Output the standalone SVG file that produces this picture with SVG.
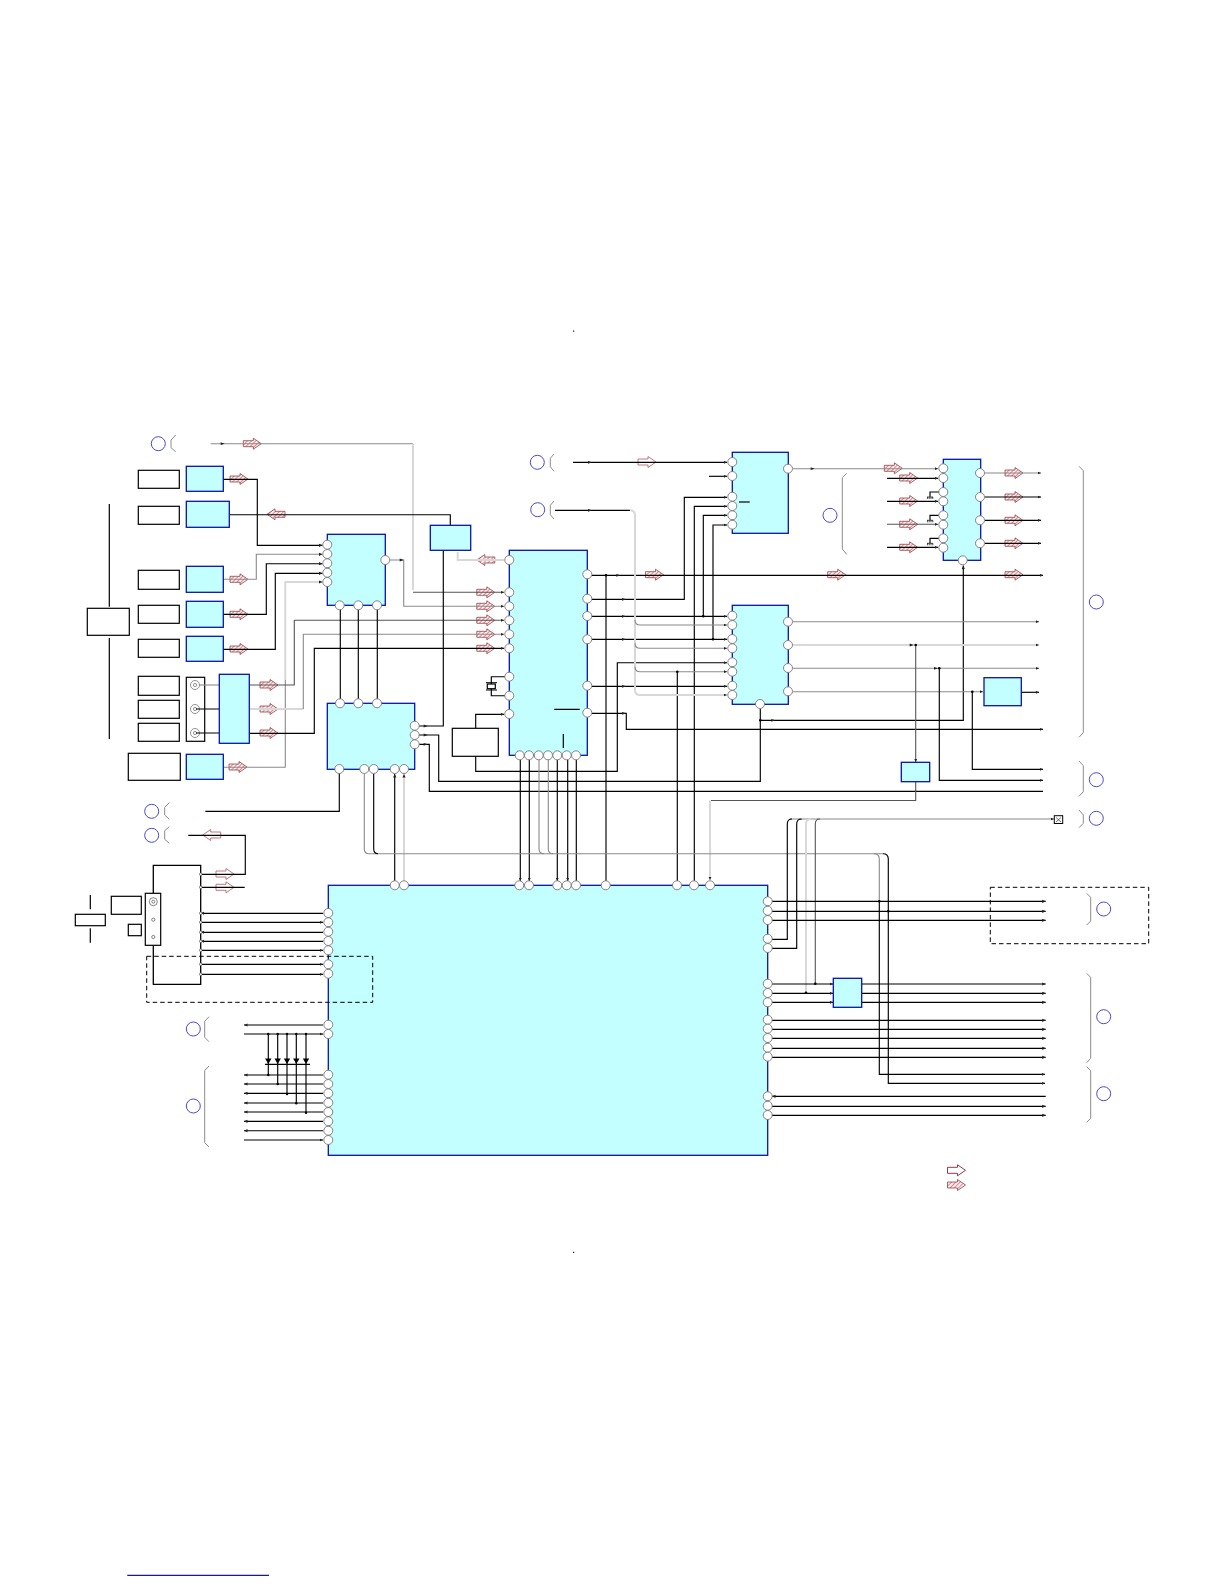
<svg xmlns="http://www.w3.org/2000/svg" width="1224" height="1584" viewBox="0 0 1224 1584">
<style>
.n{fill:#c4ffff;stroke:#0a14a8;stroke-width:1.3}
.w{fill:#fff;stroke:#000;stroke-width:1.2}
.p{fill:#fff;stroke:#777;stroke-width:.9}
.c{fill:none;stroke:#4a4ad2;stroke-width:1}
.b{fill:none;stroke:#8c8c8c;stroke-width:1}
#connectors path{fill:none}
.k{stroke:#000;stroke-width:1.15}
.g{stroke:#8a8a8a;stroke-width:1.1}
.d{stroke:#555;stroke-width:1.1}
.l{stroke:#d8d8d8;stroke-width:2}
.a{marker-end:url(#t)}
.j{fill:#000}
.h{fill:url(#hatch);stroke:#96404a;stroke-width:.8}
.o{fill:#fff;stroke:#b56a70;stroke-width:.9}
</style>
<defs>
<pattern id="hatch" width="3" height="3" patternUnits="userSpaceOnUse" patternTransform="rotate(45)">
<rect width="3" height="3" fill="#fdf0f0"/><rect width="1" height="3" fill="#d88a90"/>
</pattern>
<marker id="t" markerUnits="userSpaceOnUse" markerWidth="4" markerHeight="4" refX="3.5" refY="2" orient="auto"><path d="M0,.4L3.5,2L0,3.6Z" fill="#222"/></marker>
<path id="ar" d="M-9,-3H1V-5.5L9,0L1,5.5V3H-9Z"/>
<path id="al" d="M9,-3H-1V-5.5L-9,0L-1,5.5V3H9Z"/>
<path id="tr" d="M-2,-1.4L2,0L-2,1.4Z" fill="#222"/>
<path id="gnd" d="M-3,0H3M-2.6,0V2M-.8,0V2M1,0V2M2.8,0V2" fill="none" stroke="#000" stroke-width=".7"/>
<path id="di" d="M-3.2,-5.5H3.2L0,0Z" fill="#000"/>
</defs>
<rect width="1224" height="1584" fill="#fff"/>

<g id="arrows">
<use href="#ar" class="h" x="252.3" y="443.7"/><use href="#ar" class="h" x="239" y="479"/><use href="#al" class="h" x="276" y="514.3"/>
<use href="#ar" class="h" x="239" y="579.3"/><use href="#ar" class="h" x="239" y="614.3"/><use href="#ar" class="h" x="239" y="649"/>
<use href="#ar" class="h" x="269" y="685"/><use href="#ar" class="h" x="269" y="709"/><use href="#ar" class="h" x="269" y="733"/><use href="#ar" class="h" x="238" y="767"/>
<use href="#al" class="h" x="485.8" y="560"/><use href="#ar" class="h" x="485.8" y="592.3"/><use href="#ar" class="h" x="485.8" y="606.3"/><use href="#ar" class="h" x="485.8" y="620.3"/><use href="#ar" class="h" x="485.8" y="634.3"/><use href="#ar" class="h" x="485.8" y="648.3"/>
<use href="#ar" class="h" x="654.5" y="574.7"/><use href="#ar" class="h" x="836.7" y="574.7"/><use href="#ar" class="h" x="893.3" y="468.3"/>
<use href="#ar" class="h" x="908.7" y="478"/><use href="#ar" class="h" x="908.7" y="501"/><use href="#ar" class="h" x="908.7" y="524.3"/><use href="#ar" class="h" x="908.7" y="547.3"/>
<use href="#ar" class="h" x="1014" y="473"/><use href="#ar" class="h" x="1014" y="497"/><use href="#ar" class="h" x="1014" y="520.3"/><use href="#ar" class="h" x="1014" y="543.3"/><use href="#ar" class="h" x="1014" y="574.7"/>
<use href="#ar" class="o" x="647" y="462"/><use href="#al" class="o" x="211.7" y="835"/><use href="#ar" class="o" x="225" y="874"/><use href="#ar" class="o" x="225" y="887.3"/>
<use href="#ar" class="o" style="stroke:#8c2430" x="956.5" y="1170.3"/><use href="#ar" class="h" x="956.5" y="1185"/>
</g>

<g id="connectors">
<path class="g" d="M210.7,443.7H413"/><path class="l" d="M413,443.7V590"/><path class="d a" d="M413,592.3H504"/>
<path class="k a" d="M223.3,479.3H257.3V545.3H322.5"/>
<path class="k" d="M230,514.7H450.3V525.3"/>
<path class="g a" d="M223.3,579.3H256.3V554.3H322.5"/>
<path class="k a" d="M223.3,614.3H266.3V563.7H322.5"/>
<path class="k a" d="M223.3,649.3H275.3V573.3H322.5"/>
<path class="g" d="M223.3,767.3H285.3V680"/><path class="l a" d="M285.3,680V582H322.5"/>
<path class="g a" d="M390,560H403.7V606.3H504"/>
<path class="d a" d="M249.3,685H294.3V620.3H504"/>
<path class="l" d="M249.3,709H303.3"/><path class="g a" d="M303.3,709V634.3H504"/>
<path class="k a" d="M249.3,733.3H314.3V648.3H504"/>
<path class="k" d="M340.3,708V600M358.3,708V600M377.3,708V600"/>
<path class="k" d="M419,726H443.3V550.3"/>
<path class="l" d="M504,560H457.7V552"/><path class="k" d="M419,735H438.7V781.3H760.3V709"/><path class="k" d="M419,744.3H429.3V791.3H1043"/>
<path class="k" d="M205.3,811.3H339.3V769"/>
<path class="k a" d="M475.7,728.3V714.3H504"/>
<path class="k a" d="M475.7,756.3V771.3H617.3V662.7H727"/>
<path class="k" d="M505,676.7H491.3V684M491.3,688.7V695.7H505"/>
<path class="k a" d="M592,575.3H1043"/>
<path class="k" d="M606,575.3V885"/>
<path class="k a" d="M592,599.3H684.3V497.3H727"/>
<path class="k a" d="M592,616.3H727"/>
<path class="k a" d="M592,639.3H727"/>
<path class="k a" d="M592,686.3H727"/>
<path class="k a" d="M592,713.3H626.3V729.3H1043"/>
<path class="k a" d="M694.3,885V506.3H727"/>
<path class="k a" d="M703.3,616V515.3H727"/>
<path class="k a" d="M713,639.3V525H727"/>
<path class="k" d="M677.3,671.7V885"/>
<path class="k a" d="M573,462.3H727"/><path class="k a" d="M709,476.3H727"/>
<path class="k" d="M555,510.3H630"/>
<path class="l a" d="M630,510.3Q635,510.3 635,515.3V690Q635,695 640,695H727"/>
<path class="g a" d="M635,620Q635,625 640,625H727"/><path class="g a" d="M635,643.3Q635,648.3 640,648.3H727"/><path class="g a" d="M635,666.7Q635,671.7 640,671.7H727"/>
<path class="g a" d="M793,468.7H938"/>
<path class="k a" d="M887,478.3H938"/><path class="k a" d="M887,501.3H938"/><path class="d a" d="M887,524.3H938"/><path class="k a" d="M887,547.3H938"/>
<path class="k" d="M939,492H930V496.7M939,515.3H930V520M939,538.3H930V543"/>
<path class="g a" d="M985,473H1041"/><path class="k a" d="M985,497H1041"/><path class="k a" d="M985,520.3H1041"/><path class="k a" d="M985,543.3H1041"/>
<path class="k a" d="M760.3,720.3H963.3V565.5"/>
<path class="g a" d="M793,621.7H1039"/><path class="l a" d="M793,645H1039"/>
<path class="g a" d="M793,668.3H1039"/><path class="g a" d="M793,691.7H983"/>
<path class="k a" d="M1021.3,692.3H1039"/>
<path class="d a" d="M915.7,645V762"/><path class="k a" d="M939.3,668.3V780.3H1043"/><path class="k a" d="M972.3,691.7V769.3H1043"/>
<path class="d" d="M915.7,781.7V800.5H711"/><path class="l a" d="M710,800.5V880"/>
<path class="k a" d="M520.3,760V881"/><path class="k a" d="M529.3,760V881"/>
<path class="k a" d="M557.3,760V881"/><path class="k a" d="M567.7,760V881"/><path class="k" d="M576.3,760V881"/>
<path class="k a" d="M394.7,881V774"/><path class="l a" d="M404,881V774"/>
<path class="g" d="M364.3,774V849Q364.3,853.7 369,853.7H883"/>
<path class="k" d="M373.7,774V849Q373.7,853.7 378,853.7"/>
<path class="g" d="M539,760V849Q539,853.7 544,853.7M548.3,760V849Q548.3,853.7 553,853.7"/>
<path class="k a" d="M883,853.7Q888.3,853.7 888.3,859V1083.3H1045"/>
<path class="g" d="M874,853.7Q879.3,853.7 879.3,859V901.3"/><path class="k a" d="M879.3,901.3V1074.3H1045"/>
<path class="g a" d="M790,819H1054"/>
<path class="k" d="M772,939.3H787.3V824Q787.3,819 792,819"/>
<path class="k" d="M772,948.3H796.7V824Q796.7,819 801.7,819"/>
<path class="l" d="M806,992.7V824Q806,819 811,819"/>
<path class="d" d="M815.3,983.7V824Q815.3,819 820,819"/>
<path class="k a" d="M772,901.3H1045.7"/><path class="k a" d="M772,911.3H1045.7"/><path class="k a" d="M772,920.3H1045.7"/>
<path class="k a" d="M772,984H833"/><path class="k a" d="M772,993.3H833"/><path class="k a" d="M772,1002.3H833"/>
<path class="k a" d="M861.7,984H1045.7"/><path class="k a" d="M861.7,993.3H1045.7"/><path class="k a" d="M861.7,1002.3H1045.7"/>
<path class="k a" d="M772,1020.3H1045.7"/><path class="k a" d="M772,1029.3H1045.7"/><path class="k a" d="M772,1038.3H1045.7"/><path class="k a" d="M772,1048.3H1045.7"/><path class="k a" d="M772,1057.3H1045.7"/>
<path class="k a" d="M1045.7,1096.3H772"/><path class="k a" d="M772,1106.3H1045.7"/><path class="k a" d="M772,1115.3H1045.7"/>
<path class="k" d="M188.3,835.3H245.3V874.3H200.7M200.7,887.3H244.7"/>
<path class="k a" d="M323,913.3H200.7"/><path class="k a" d="M200.7,922.3H323"/><path class="k a" d="M323,932.3H200.7"/><path class="k a" d="M323,941.3H200.7"/><path class="k a" d="M200.7,950.3H323"/><path class="k a" d="M200.7,964.3H323"/><path class="k a" d="M200.7,974.3H323"/>
<path class="k a" d="M323,1025H244"/><path class="k a" d="M244,1034H323"/>
<path class="k a" d="M323,1075H244"/><path class="k a" d="M323,1084H244"/><path class="k a" d="M323,1093.3H244"/><path class="k a" d="M323,1103H244"/><path class="k a" d="M323,1112H244"/><path class="k a" d="M323,1121.3H244"/><path class="k a" d="M323,1130.7H244"/><path class="k a" d="M244,1140H323"/>
<path class="k" d="M268.3,1034V1075M277.7,1034V1084M287,1034V1094M296.3,1034V1103.3M306,1034V1112.7"/>
<path class="k" d="M265,1064.3H310"/>
<circle class="j" cx="606" cy="575.3" r="1.3"/><circle class="j" cx="703.3" cy="616.3" r="1.3"/><circle class="j" cx="713" cy="639.3" r="1.3"/><circle class="j" cx="677.3" cy="671.7" r="1.3"/><circle class="j" cx="915.7" cy="645" r="1.3"/><circle class="j" cx="939.3" cy="668.3" r="1.3"/><circle class="j" cx="972.3" cy="691.7" r="1.3"/><circle class="j" cx="760.3" cy="720.3" r="1.3"/><circle class="j" cx="815.3" cy="983.7" r="1.3"/><circle class="j" cx="806" cy="992.7" r="1.3"/><circle class="j" cx="879.3" cy="901.3" r="1.3"/><circle class="j" cx="888.3" cy="911.3" r="1.3"/>
<circle class="j" cx="268.3" cy="1034" r="1.2"/><circle class="j" cx="277.7" cy="1034" r="1.2"/><circle class="j" cx="287" cy="1034" r="1.2"/><circle class="j" cx="296.3" cy="1034" r="1.2"/><circle class="j" cx="306" cy="1034" r="1.2"/>
<circle class="j" cx="268.3" cy="1075" r="1.2"/><circle class="j" cx="277.7" cy="1084" r="1.2"/><circle class="j" cx="287" cy="1094" r="1.2"/><circle class="j" cx="296.3" cy="1103.3" r="1.2"/><circle class="j" cx="306" cy="1112.7" r="1.2"/>
<use href="#tr" x="222.7" y="443.7"/><use href="#tr" x="590" y="462.3"/><use href="#tr" x="590" y="510.3"/><use href="#tr" x="401.7" y="560"/><use href="#tr" x="425.7" y="726"/><use href="#tr" x="425.7" y="735"/><use href="#tr" x="425.7" y="744.3"/><use href="#tr" x="618.3" y="575.3"/><use href="#tr" x="624" y="599.3"/><use href="#tr" x="624" y="616.3"/><use href="#tr" x="624" y="639.3"/><use href="#tr" x="624" y="686.3"/><use href="#tr" x="624" y="713.3"/><use href="#tr" x="812.7" y="468.7"/><use href="#tr" x="911.7" y="645"/><use href="#tr" x="936" y="668.3"/><use href="#tr" x="773.3" y="720.3"/>
</g>

<g id="labels">
<circle class="c" cx="158.3" cy="443.7" r="7"/><path class="b" d="M175.7,435L171,440V447.7L175.7,451.7"/>
<circle class="c" cx="537.3" cy="462.3" r="7"/><path class="b" d="M554,454L550.3,458.3V466.7L554,471.3"/>
<circle class="c" cx="537.7" cy="509.7" r="7"/><path class="b" d="M554,501L550.3,505.3V514.7L554,519"/>
<circle class="c" cx="830" cy="515.3" r="7"/><path class="b" d="M846.7,473.3L842.3,477.7V549L846.7,554.3"/>
<circle class="c" cx="1096.3" cy="602" r="7"/><path class="b" d="M1079,466.3L1083.3,470.7V732.7L1079,737.3"/>
<circle class="c" cx="1096.3" cy="779.7" r="7"/><path class="b" d="M1079,761L1083.3,765.7V791.7L1079,796.3"/>
<circle class="c" cx="1096.3" cy="818.3" r="7"/><path class="b" d="M1079,810L1083.3,815V823.3L1079,827.7"/>
<circle class="c" cx="151.7" cy="811.3" r="7"/><path class="b" d="M169.3,802.7L164.7,807.3V815L169.3,819.3"/>
<circle class="c" cx="151.7" cy="835.3" r="7"/><path class="b" d="M169.3,826.7L164.7,830.7V839.3L169.3,843.3"/>
<circle class="c" cx="193.3" cy="1029" r="7"/><path class="b" d="M209,1016.7L204.7,1021.3V1037.3L209,1041.7"/>
<circle class="c" cx="193.3" cy="1106" r="7"/><path class="b" d="M209,1066L204.7,1070.7V1142.7L209,1147"/>
<circle class="c" cx="1103.7" cy="909" r="7"/><path class="b" d="M1086.7,893.3L1090.7,897.3V921L1086.7,925"/>
<circle class="c" cx="1103.7" cy="1016.7" r="7"/><path class="b" d="M1086.7,973.3L1090.7,977.3V1058.3L1086.7,1062.7"/>
<circle class="c" cx="1103.7" cy="1093.7" r="7"/><path class="b" d="M1086.7,1066.7L1090.7,1070.7V1118.3L1086.7,1122.3"/>
<use href="#gnd" x="930" y="497"/><use href="#gnd" x="930" y="520.3"/><use href="#gnd" x="930" y="543.3"/>
</g>

<g id="sources">
<rect class="w" x="138.3" y="470.3" width="41" height="18"/>
<rect class="w" x="138.3" y="506.3" width="41" height="18"/>
<rect class="w" x="138.3" y="570.3" width="41" height="19"/>
<rect class="w" x="138.3" y="605.3" width="41" height="18"/>
<rect class="w" x="138.3" y="639.3" width="41" height="18"/>
<rect class="w" x="138.3" y="676.3" width="41" height="19"/>
<rect class="w" x="138.3" y="700.3" width="41" height="18"/>
<rect class="w" x="138.3" y="723.3" width="41" height="18"/>
<rect class="w" x="128.3" y="753.3" width="52" height="27"/>
<rect class="w" x="87.3" y="608.3" width="42" height="27"/>
<path d="M109.3,504V606.7M109.3,638V739" stroke="#000" stroke-width="1.2"/>
</g>
<g id="jacks">
<rect class="w" x="186.3" y="677.3" width="18.4" height="64"/>
<g fill="none" stroke="#777" stroke-width=".8"><circle cx="195" cy="685" r="4.5"/><circle cx="195" cy="685" r="1.6"/><circle cx="195" cy="709" r="4.5"/><circle cx="195" cy="709" r="1.6"/><circle cx="195" cy="733" r="4.5"/><circle cx="195" cy="733" r="1.6"/></g>
<path class="g" fill="none" d="M199,685H219"/><path class="k" fill="none" d="M196,709H219M196,733H219"/>
</g>

<rect id="u1" class="n" x="186.3" y="466.3" width="37" height="25"/>
<rect id="u2" class="n" x="186.3" y="501.3" width="43" height="26"/>
<rect id="u3" class="n" x="186.3" y="566.3" width="37" height="26"/>
<rect id="u4" class="n" x="186.3" y="601.3" width="37" height="26"/>
<rect id="u5" class="n" x="186.3" y="636.3" width="37" height="25"/>
<rect id="u6" class="n" x="219.3" y="674.3" width="30" height="69"/>
<rect id="u7" class="n" x="186.3" y="754.3" width="37" height="25"/>
<rect id="u8" class="n" x="430.3" y="525.3" width="40.4" height="25"/>
<rect id="u9" class="n" x="984" y="677.7" width="37.3" height="28"/>
<rect id="u10" class="n" x="901.3" y="762.3" width="28.4" height="19.4"/>
<rect id="u11" class="n" x="833.3" y="978.3" width="28.4" height="29"/>

<g id="sw1"><rect class="n" x="327.3" y="534.3" width="58" height="71"/>
<circle class="p" cx="327.3" cy="544.7" r="4.5"/><circle class="p" cx="327.3" cy="554" r="4.5"/><circle class="p" cx="327.3" cy="563.3" r="4.5"/><circle class="p" cx="327.3" cy="572.7" r="4.5"/><circle class="p" cx="327.3" cy="582" r="4.5"/><circle class="p" cx="385.3" cy="560" r="4.5"/><circle class="p" cx="339.7" cy="605.3" r="4.5"/><circle class="p" cx="358.3" cy="605.3" r="4.5"/><circle class="p" cx="377" cy="605.3" r="4.5"/></g>

<g id="sw2"><rect class="n" x="327.3" y="703.3" width="87.4" height="66"/>
<circle class="p" cx="340" cy="703.3" r="4.5"/><circle class="p" cx="358.3" cy="703.3" r="4.5"/><circle class="p" cx="377" cy="703.3" r="4.5"/><circle class="p" cx="414.7" cy="725.7" r="4.5"/><circle class="p" cx="414.7" cy="735" r="4.5"/><circle class="p" cx="414.7" cy="744.3" r="4.5"/><circle class="p" cx="339.3" cy="769" r="4.5"/><circle class="p" cx="364.3" cy="769" r="4.5"/><circle class="p" cx="373.7" cy="769" r="4.5"/><circle class="p" cx="394.7" cy="769" r="4.5"/><circle class="p" cx="404" cy="769" r="4.5"/></g>

<g id="main"><rect class="n" x="509.3" y="550.3" width="78" height="205"/>
<path d="M554.3,709.3H579.7M563.3,734V748" stroke="#000" stroke-width="1.2" fill="none"/>
<circle class="p" cx="509.3" cy="560" r="4.5"/><circle class="p" cx="509.3" cy="592.3" r="4.5"/><circle class="p" cx="509.3" cy="606.3" r="4.5"/><circle class="p" cx="509.3" cy="620.3" r="4.5"/><circle class="p" cx="509.3" cy="634.3" r="4.5"/><circle class="p" cx="509.3" cy="648.3" r="4.5"/><circle class="p" cx="509.3" cy="676.7" r="4.5"/><circle class="p" cx="509.3" cy="695.7" r="4.5"/><circle class="p" cx="509.3" cy="714" r="4.5"/>
<circle class="p" cx="587.3" cy="574.3" r="4.5"/><circle class="p" cx="587.3" cy="598.7" r="4.5"/><circle class="p" cx="587.3" cy="616" r="4.5"/><circle class="p" cx="587.3" cy="639.3" r="4.5"/><circle class="p" cx="587.3" cy="685.7" r="4.5"/><circle class="p" cx="587.3" cy="712.7" r="4.5"/>
<circle class="p" cx="519.7" cy="755.3" r="4.5"/><circle class="p" cx="529" cy="755.3" r="4.5"/><circle class="p" cx="538.7" cy="755.3" r="4.5"/><circle class="p" cx="548" cy="755.3" r="4.5"/><circle class="p" cx="557.3" cy="755.3" r="4.5"/><circle class="p" cx="566.7" cy="755.3" r="4.5"/><circle class="p" cx="576" cy="755.3" r="4.5"/></g>

<g id="xtal"><rect class="w" x="487.3" y="684" width="8" height="4.7"/><path d="M486,682.7H497M486,690H497" stroke="#000" stroke-width="1"/></g>
<rect id="box-a" class="w" x="452.3" y="728.3" width="46" height="28"/>

<g id="top-r"><rect class="n" x="732.3" y="452.3" width="56" height="81"/>
<path d="M739,502H749.7" stroke="#000" stroke-width="1.2"/>
<circle class="p" cx="732.3" cy="462" r="4.5"/><circle class="p" cx="732.3" cy="476" r="4.5"/><circle class="p" cx="732.3" cy="496.7" r="4.5"/><circle class="p" cx="732.3" cy="506" r="4.5"/><circle class="p" cx="732.3" cy="515.3" r="4.5"/><circle class="p" cx="732.3" cy="524.7" r="4.5"/><circle class="p" cx="788" cy="468.7" r="4.5"/></g>

<g id="mid-r"><rect class="n" x="732.3" y="605.3" width="56" height="99"/>
<circle class="p" cx="732.3" cy="615.7" r="4.5"/><circle class="p" cx="732.3" cy="625" r="4.5"/><circle class="p" cx="732.3" cy="639" r="4.5"/><circle class="p" cx="732.3" cy="648.3" r="4.5"/><circle class="p" cx="732.3" cy="662.3" r="4.5"/><circle class="p" cx="732.3" cy="671.7" r="4.5"/><circle class="p" cx="732.3" cy="685.7" r="4.5"/><circle class="p" cx="732.3" cy="695" r="4.5"/>
<circle class="p" cx="788" cy="621.7" r="4.5"/><circle class="p" cx="788" cy="645" r="4.5"/><circle class="p" cx="788" cy="668" r="4.5"/><circle class="p" cx="788" cy="691.3" r="4.5"/><circle class="p" cx="760" cy="704" r="4.5"/></g>

<g id="amp"><rect class="n" x="943.3" y="459.3" width="37.4" height="101"/>
<circle class="p" cx="943.3" cy="468.3" r="4.5"/><circle class="p" cx="943.3" cy="478" r="4.5"/><circle class="p" cx="943.3" cy="492" r="4.5"/><circle class="p" cx="943.3" cy="501.3" r="4.5"/><circle class="p" cx="943.3" cy="515.3" r="4.5"/><circle class="p" cx="943.3" cy="524.7" r="4.5"/><circle class="p" cx="943.3" cy="538.3" r="4.5"/><circle class="p" cx="943.3" cy="547.7" r="4.5"/>
<circle class="p" cx="980" cy="473" r="4.5"/><circle class="p" cx="980" cy="497" r="4.5"/><circle class="p" cx="980" cy="520.3" r="4.5"/><circle class="p" cx="980" cy="543.3" r="4.5"/><circle class="p" cx="962.7" cy="560.3" r="4.5"/></g>

<g id="big"><rect class="n" x="328.3" y="885.3" width="439.4" height="270"/>
<circle class="p" cx="394.7" cy="885.3" r="4.5"/><circle class="p" cx="404" cy="885.3" r="4.5"/><circle class="p" cx="519.3" cy="885.3" r="4.5"/><circle class="p" cx="529" cy="885.3" r="4.5"/><circle class="p" cx="557.3" cy="885.3" r="4.5"/><circle class="p" cx="566.7" cy="885.3" r="4.5"/><circle class="p" cx="576" cy="885.3" r="4.5"/><circle class="p" cx="605.7" cy="885.3" r="4.5"/><circle class="p" cx="677" cy="885.3" r="4.5"/><circle class="p" cx="694" cy="885.3" r="4.5"/><circle class="p" cx="710" cy="885.3" r="4.5"/>
<circle class="p" cx="328.3" cy="913" r="4.5"/><circle class="p" cx="328.3" cy="922.3" r="4.5"/><circle class="p" cx="328.3" cy="931.7" r="4.5"/><circle class="p" cx="328.3" cy="941" r="4.5"/><circle class="p" cx="328.3" cy="950.3" r="4.5"/><circle class="p" cx="328.3" cy="964.3" r="4.5"/><circle class="p" cx="328.3" cy="973.7" r="4.5"/><circle class="p" cx="328.3" cy="1024.7" r="4.5"/><circle class="p" cx="328.3" cy="1034" r="4.5"/><circle class="p" cx="328.3" cy="1074.7" r="4.5"/><circle class="p" cx="328.3" cy="1084" r="4.5"/><circle class="p" cx="328.3" cy="1093.3" r="4.5"/><circle class="p" cx="328.3" cy="1102.7" r="4.5"/><circle class="p" cx="328.3" cy="1112" r="4.5"/><circle class="p" cx="328.3" cy="1121.3" r="4.5"/><circle class="p" cx="328.3" cy="1130.7" r="4.5"/><circle class="p" cx="328.3" cy="1140" r="4.5"/>
<circle class="p" cx="767.7" cy="901.3" r="4.5"/><circle class="p" cx="767.7" cy="910.7" r="4.5"/><circle class="p" cx="767.7" cy="920" r="4.5"/><circle class="p" cx="767.7" cy="938.7" r="4.5"/><circle class="p" cx="767.7" cy="948" r="4.5"/><circle class="p" cx="767.7" cy="983.7" r="4.5"/><circle class="p" cx="767.7" cy="993" r="4.5"/><circle class="p" cx="767.7" cy="1002.3" r="4.5"/><circle class="p" cx="767.7" cy="1019.7" r="4.5"/><circle class="p" cx="767.7" cy="1028.7" r="4.5"/><circle class="p" cx="767.7" cy="1038" r="4.5"/><circle class="p" cx="767.7" cy="1047.7" r="4.5"/><circle class="p" cx="767.7" cy="1056.7" r="4.5"/><circle class="p" cx="767.7" cy="1096.3" r="4.5"/><circle class="p" cx="767.7" cy="1105.7" r="4.5"/><circle class="p" cx="767.7" cy="1115" r="4.5"/></g>

<g id="front">
<path d="M153.3,893V865.3H200.7V984.3H153.3V945" fill="none" stroke="#000" stroke-width="1.3"/>
<rect class="w" x="111.3" y="896.3" width="30" height="18"/>
<rect class="w" x="128.3" y="924.3" width="13" height="11.4"/>
<rect class="w" x="75.3" y="914.3" width="30" height="11.4"/>
<path d="M90.3,895V909.3M90.3,928.3V942.7" stroke="#000" stroke-width="1.2"/>
<rect class="w" x="145.3" y="893.3" width="15.4" height="52"/>
<g fill="none" stroke="#666" stroke-width=".8"><circle cx="153.3" cy="901.7" r="4"/><circle cx="153.3" cy="901.7" r="1.5"/><circle cx="153.3" cy="919.7" r="1.6"/><circle cx="153.3" cy="937" r="1.6"/></g>
<g fill="#fff" stroke="#555" stroke-width=".7"><circle cx="200.7" cy="874.3" r="1.3"/><circle cx="200.7" cy="887.3" r="1.3"/><circle cx="200.7" cy="913.3" r="1.3"/><circle cx="200.7" cy="922.3" r="1.3"/><circle cx="200.7" cy="932.3" r="1.3"/><circle cx="200.7" cy="941.3" r="1.3"/><circle cx="200.7" cy="950.3" r="1.3"/><circle cx="200.7" cy="964.3" r="1.3"/><circle cx="200.7" cy="974.3" r="1.3"/></g>
</g>
<g id="diodes"><use href="#di" x="268.3" y="1064"/><use href="#di" x="277.7" y="1064"/><use href="#di" x="287" y="1064"/><use href="#di" x="296.3" y="1064"/><use href="#di" x="306" y="1064"/></g>
<g id="terminal"><rect x="1054.3" y="815.7" width="8.4" height="7.8" fill="#fff" stroke="#000" stroke-width="1"/><path d="M1056,817.5L1061,822M1061,817.5L1056,822" stroke="#333" stroke-width=".7"/></g>
<g id="dashed" fill="none" stroke="#000" stroke-width="1" stroke-dasharray="4.5 3"><rect x="146.7" y="956.3" width="226" height="46"/><rect x="990.3" y="887.3" width="158.4" height="56.4"/></g>
<rect x="573" y="330.5" width="1.2" height="1.2" fill="#111"/><rect x="573" y="1251.8" width="1.2" height="1.2" fill="#111"/>
<path d="M127.3,1575.3H269" stroke="#1a1a8c" stroke-width="1.2"/>
</svg>
